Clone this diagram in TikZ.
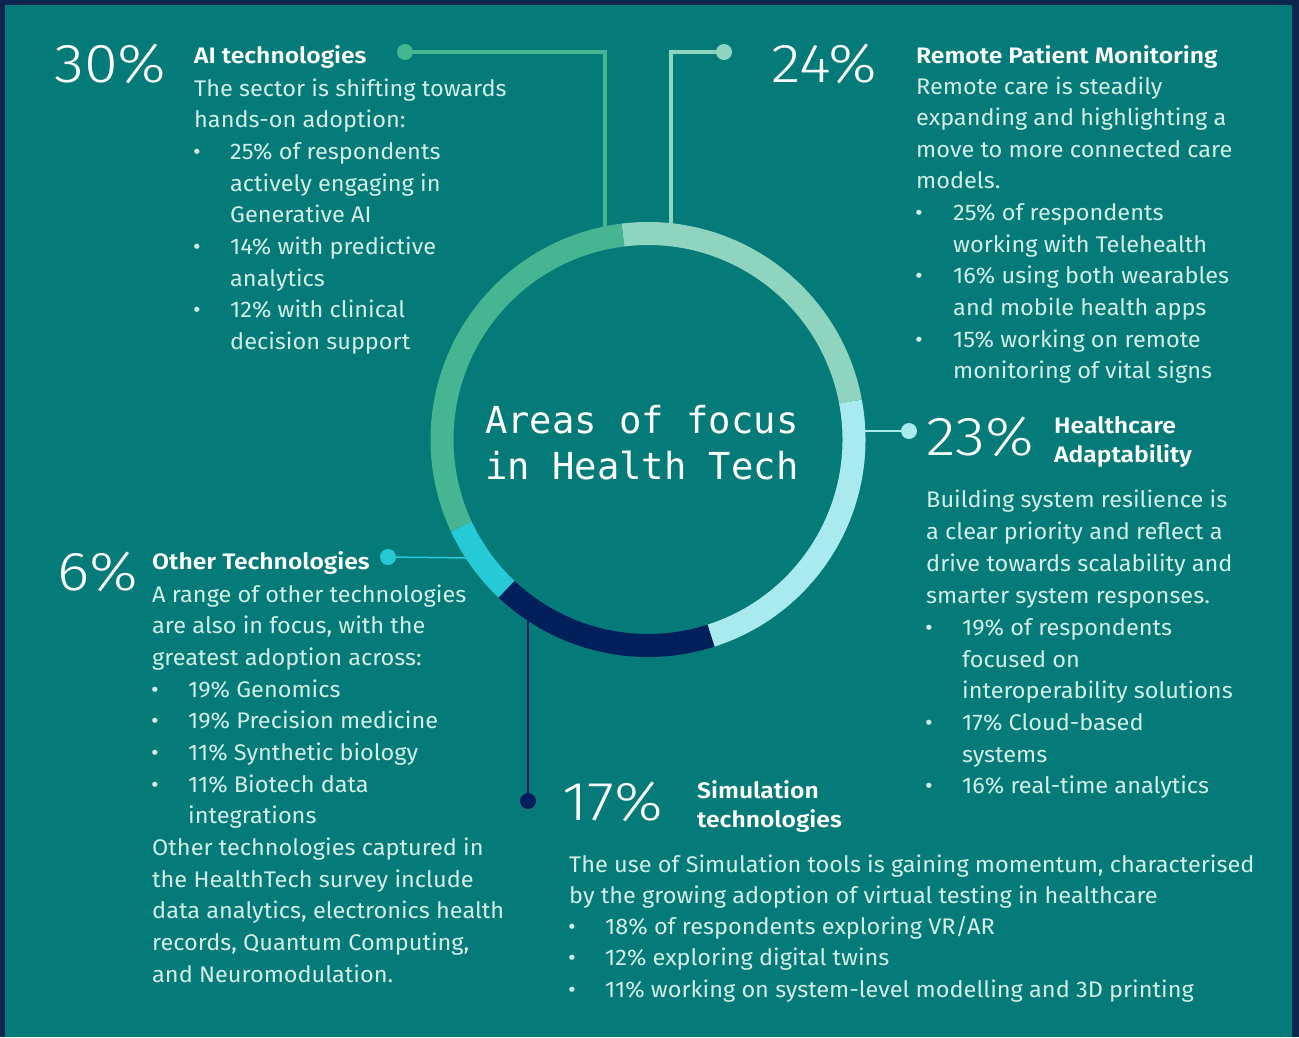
\documentclass[tikz,border=0pt]{standalone}
\usepackage{fontspec}
\setmainfont{Fira Sans}[FakeStretch=1.04]
\IfFontExistsTF{Fira Sans Light}{\newfontfamily\pctfam{Fira Sans Light}[FakeStretch=1.12]}{\newfontfamily\pctfam{Fira Sans}[FakeStretch=1.12]}
\IfFontExistsTF{Fira Sans SemiBold}{\newfontfamily\headfam{Fira Sans SemiBold}[FakeStretch=1.1]}{\newcommand\headfam{\bfseries}}
\newfontfamily\monofam{DejaVu Sans Mono}
\definecolor{navyb}{HTML}{0E2550}
\definecolor{teal0}{HTML}{047B78}
\definecolor{aigreen}{HTML}{45B592}
\definecolor{rpmmint}{HTML}{8FD4BF}
\definecolor{hacyan}{HTML}{A8EAEE}
\definecolor{simnavy}{HTML}{001F5B}
\definecolor{othcyan}{HTML}{26C9D6}
\definecolor{bodytxt}{HTML}{D2EEE7}
\tikzset{
  body/.style={anchor=base west, inner sep=0pt, text=bodytxt, font=\fontsize{22.7}{27}\selectfont},
  bul/.style={anchor=base, inner sep=0pt, text=bodytxt, font=\fontsize{22.7}{27}\selectfont},
  head/.style={anchor=base west, inner sep=0pt, text=white, font=\headfam\fontsize{22.5}{28.5}\selectfont},
  pct/.style={anchor=base west, inner sep=0pt, text=white, font=\pctfam\fontsize{55}{60}\selectfont},
  ttl/.style={anchor=base west, inner sep=0pt, text=white, font=\monofam\fontsize{37.3}{44}\selectfont},
  seg/.style={line width=23bp},
  dotc/.style={circle, inner sep=0pt, minimum size=16bp},
  thickconn/.style={line width=3.5bp},
  thinconn/.style={line width=1.5bp}
}
\begin{document}
\begin{tikzpicture}[x=1bp,y=-1bp]
\useasboundingbox (0,0) rectangle (1299,1037);
\fill[navyb] (0,0) rectangle (1299,1037);
\fill[teal0] (5,5) rectangle (1292,1037);

% connector ends at the ring
\coordinate (c) at (648,439.5);
\coordinate (aiend) at (605,235);
\coordinate (rpmend) at (671,235);
\coordinate (haend) at (855,431);
\coordinate (othend) at (470,558);
\coordinate (simend) at (528,612);

% dots
\node[dotc, fill=aigreen] (aidot) at (405,52) {};
\node[dotc, fill=rpmmint] (rpmdot) at (724,52) {};
\node[dotc, fill=hacyan] (hadot) at (909,431) {};
\node[dotc, fill=othcyan] (othdot) at (388,557) {};
\node[dotc, fill=simnavy] (simdot) at (528,801) {};

% connectors
\draw[thickconn, aigreen] (aidot.center) -| (aiend);
\draw[thickconn, rpmmint] (rpmdot.center) -| (rpmend);
\draw[thinconn, hacyan] (haend) -- (hadot.center);
\draw[thinconn, othcyan] (othdot.center) -- (othend);
\draw[thinconn, simnavy] (simend) -- (simdot.center);

% ring
\draw[seg, rpmmint] (c) ++(-97:206) arc[start angle=-97, end angle=-10.6, radius=206];
\draw[seg, hacyan] (c) ++(-10.6:206) arc[start angle=-10.6, end angle=72.2, radius=206];
\draw[seg, simnavy] (c) ++(72.2:206) arc[start angle=72.2, end angle=133.4, radius=206];
\draw[seg, othcyan] (c) ++(133.4:206) arc[start angle=133.4, end angle=155, radius=206];
\draw[seg, aigreen] (c) ++(155:206) arc[start angle=155, end angle=263, radius=206];

% title
\node[ttl] (t1) at (485,433) {Areas of focus};
\node[ttl] (t2) at (485,479) {in Health Tech};

% AI block
\node[pct] (aipct) at (54,82) {30\%};
\node[head] (aihead) at (194,63) {AI technologies};
\node[body] (ai1) at (194,96) {The sector is shifting towards};
\node[body] (ai2) at (194,127.5) {hands-on adoption:};
\node[bul] (aib1) at (197,159) {•};
\node[body] (ai3) at (230,159) {25\% of respondents};
\node[body] (ai4) at (230,191) {actively engaging in};
\node[body] (ai5) at (230,222.5) {Generative AI};
\node[bul] (aib2) at (197,254) {•};
\node[body] (ai6) at (230,254) {14\% with predictive};
\node[body] (ai7) at (230,286) {analytics};
\node[bul] (aib3) at (197,317.5) {•};
\node[body] (ai8) at (230,317.5) {12\% with clinical};
\node[body] (ai9) at (230,349) {decision support};

% RPM block
\node[pct] (rpmpct) at (771,82) {24\%};
\node[head] (rpmhead) at (916,63) {Remote Patient Monitoring};
\node[body] (rpm1) at (916,94) {Remote care is steadily};
\node[body] (rpm2) at (916,125.5) {expanding and highlighting a};
\node[body] (rpm3) at (916,157) {move to more connected care};
\node[body] (rpm4) at (916,188.5) {models.};
\node[bul] (rpmb1) at (919,220) {•};
\node[body] (rpm5) at (953,220) {25\% of respondents};
\node[body] (rpm6) at (953,252) {working with Telehealth};
\node[bul] (rpmb2) at (919,283) {•};
\node[body] (rpm7) at (953,283) {16\% using both wearables};
\node[body] (rpm8) at (953,315) {and mobile health apps};
\node[bul] (rpmb3) at (919,347) {•};
\node[body] (rpm9) at (953,347) {15\% working on remote};
\node[body] (rpm10) at (953,378) {monitoring of vital signs};

% HA block
\node[pct] (hapct) at (926,455) {23\%};
\node[head, align=left] (hahead) at (1054,462) {Healthcare\\Adaptability};
\node[body] (ha1) at (926,507.5) {Building system resilience is};
\node[body] (ha2) at (926,539) {a clear priority and reflect a};
\node[body] (ha3) at (926,571) {drive towards scalability and};
\node[body] (ha4) at (926,603) {smarter system responses.};
\node[bul] (hab1) at (929,635) {•};
\node[body] (ha5) at (962,635) {19\% of respondents};
\node[body] (ha6) at (962,667) {focused on};
\node[body] (ha7) at (962,698) {interoperability solutions};
\node[bul] (hab2) at (929,730) {•};
\node[body] (ha8) at (962,730) {17\% Cloud-based};
\node[body] (ha9) at (962,762) {systems};
\node[bul] (hab3) at (929,793) {•};
\node[body] (ha10) at (962,793) {16\% real-time analytics};

% Other block
\node[pct] (othpct) at (57,590) {6\%};
\node[head] (othhead) at (152,569) {Other Technologies};
\node[body] (oth1) at (152,602) {A range of other technologies};
\node[body] (oth2) at (152,633.5) {are also in focus, with the};
\node[body] (oth3) at (152,665) {greatest adoption across:};
\node[bul] (othb1) at (155,697) {•};
\node[body] (oth4) at (188,697) {19\% Genomics};
\node[bul] (othb2) at (155,728) {•};
\node[body] (oth5) at (188,728) {19\% Precision medicine};
\node[bul] (othb3) at (155,760) {•};
\node[body] (oth6) at (188,760) {11\% Synthetic biology};
\node[bul] (othb4) at (155,792) {•};
\node[body] (oth7) at (188,792) {11\% Biotech data};
\node[body] (oth8) at (188,823) {integrations};
\node[body] (oth9) at (152,855) {Other technologies captured in};
\node[body] (oth10) at (152,887) {the HealthTech survey include};
\node[body] (oth11) at (152,918) {data analytics, electronics health};
\node[body] (oth12) at (152,950) {records, Quantum Computing,};
\node[body] (oth13) at (152,982) {and Neuromodulation.};

% Simulation block
\node[pct] (simpct) at (562,820) {17\%};
\node[head, align=left] (simhead) at (697,827) {Simulation\\technologies};
\node[body] (sim1) at (569,872) {The use of Simulation tools is gaining momentum, characterised};
\node[body] (sim2) at (569,903) {by the growing adoption of virtual testing in healthcare};
\node[bul] (simb1) at (572,934) {•};
\node[body] (sim3) at (605,934) {18\% of respondents exploring VR/AR};
\node[bul] (simb2) at (572,965.5) {•};
\node[body] (sim4) at (605,965.5) {12\% exploring digital twins};
\node[bul] (simb3) at (572,997) {•};
\node[body] (sim5) at (605,997) {11\% working on system-level modelling and 3D printing};
\end{tikzpicture}
\end{document}
